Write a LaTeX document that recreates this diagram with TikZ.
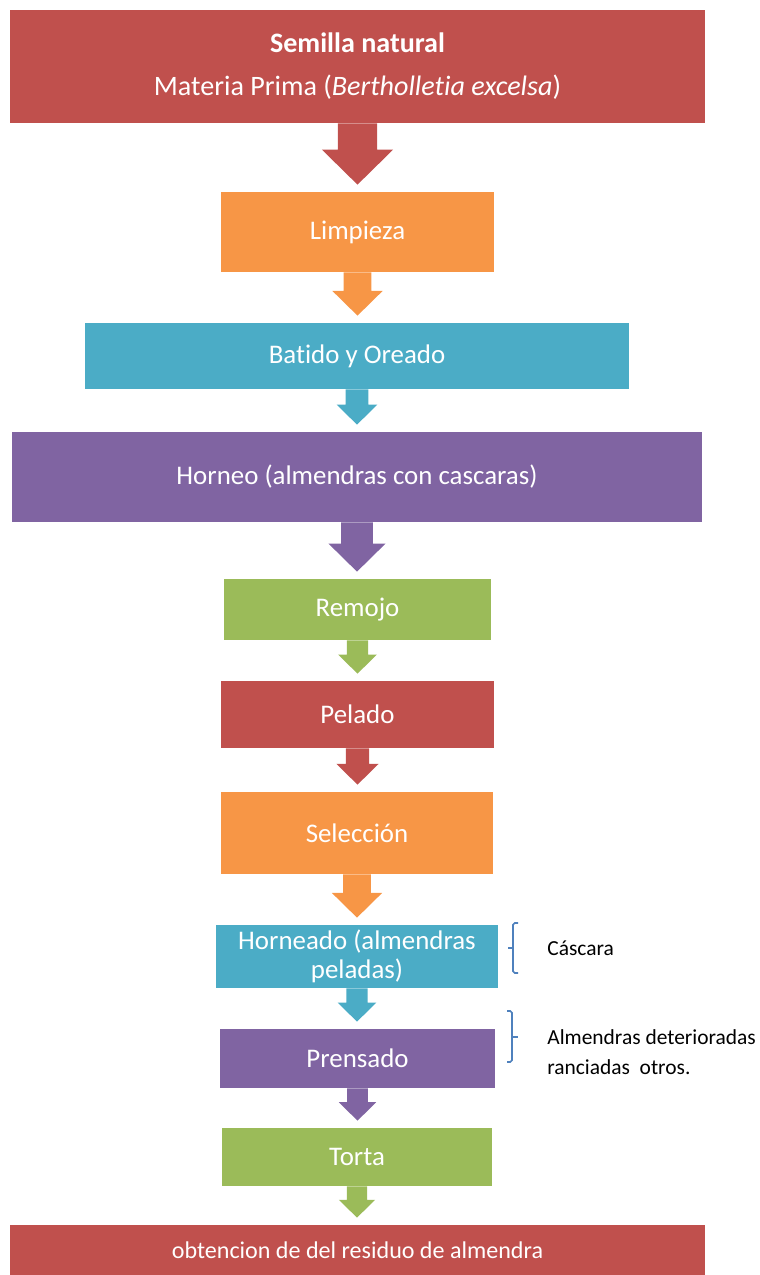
\documentclass[tikz,border=0pt]{standalone}
\usepackage{fontspec}
\setmainfont{Carlito}[Ligatures=NoCommon]
\usetikzlibrary{calc}
\definecolor{rojo}{HTML}{C0504D}
\definecolor{naranja}{HTML}{F79646}
\definecolor{celeste}{HTML}{4BACC6}
\definecolor{morado}{HTML}{8064A2}
\definecolor{verde}{HTML}{9BBB59}
\definecolor{azul}{HTML}{4F81BD}
\def\flecha[#1](#2)(#3){\fill[#1] let \p1=(#2.south), \p2=(#3.north), \n1={\y1-\y2-4pt} in
	({\x1-0.32*\n1},\y1) -- ({\x1-0.32*\n1},{\y1-0.43*\n1}) -- ({\x1-0.58*\n1},{\y1-0.43*\n1}) -- (\x1,{\y1-\n1})
	-- ({\x1+0.58*\n1},{\y1-0.43*\n1}) -- ({\x1+0.32*\n1},{\y1-0.43*\n1}) -- ({\x1+0.32*\n1},\y1) -- cycle;}

\begin{document}
\begin{tikzpicture}[x=0.02cm, y=-0.02cm,
	caja/.style={inner sep=0pt, align=center, text=white, font=\fontsize{15.3}{16.2}\selectfont},
	nota/.style={anchor=west, inner sep=0pt, align=left, font=\fontsize{12.2}{17}\selectfont},
	llave/.style={draw=azul, line width=0.9pt, rounded corners=1pt}]
		%%%%% START %%%%%
		\useasboundingbox (0, 0) rectangle (760, 1275);
		
		\node[caja, fill=rojo, minimum width=13.9cm, minimum height=2.26cm, font=\fontsize{16}{24.4}\selectfont] (semilla) at (357.5, 66.5)
			{\textbf{Semilla natural}\\Materia Prima (\textit{Bertholletia excelsa})};
		\node[caja, fill=naranja, minimum width=5.46cm, minimum height=1.6cm] (limpieza) at (357.5, 232) {Limpieza};
		\node[caja, fill=celeste, minimum width=10.88cm, minimum height=1.32cm] (batido) at (357, 356) {Batido y Oreado};
		\node[caja, fill=morado, minimum width=13.8cm, minimum height=1.8cm] (horneo) at (357, 477) {Horneo (almendras con cascaras)};
		\node[caja, fill=verde, minimum width=5.34cm, minimum height=1.22cm] (remojo) at (357.5, 609.5) {Remojo};
		\node[caja, fill=rojo, minimum width=5.46cm, minimum height=1.34cm] (pelado) at (357.5, 714.5) {Pelado};
		\node[caja, fill=naranja, minimum width=5.44cm, minimum height=1.64cm] (seleccion) at (357, 833) {Selección};
		\node[caja, fill=celeste, minimum width=5.64cm, minimum height=1.26cm] (horneado) at (357, 956.5) {Horneado (almendras\\peladas)};
		\node[caja, fill=morado, minimum width=5.5cm, minimum height=1.18cm] (prensado) at (357.5, 1058.5) {Prensado};
		\node[caja, fill=verde, minimum width=5.4cm, minimum height=1.16cm] (torta) at (357, 1157) {Torta};
		\node[caja, fill=rojo, minimum width=13.9cm, minimum height=1.0cm, font=\fontsize{13.7}{15}\selectfont] (residuo) at (357.5, 1250) {obtencion de del residuo de almendra};
		
		\flecha[rojo](semilla)(limpieza);
		\flecha[naranja](limpieza)(batido);
		\flecha[celeste](batido)(horneo);
		\flecha[morado](horneo)(remojo);
		\flecha[verde](remojo)(pelado);
		\flecha[rojo](pelado)(seleccion);
		\flecha[naranja](seleccion)(horneado);
		\flecha[celeste](horneado)(prensado);
		\flecha[morado](prensado)(torta);
		\flecha[verde](torta)(residuo);
		
		\node[nota] (cascara) at (547, 948) {Cáscara};
		\node[nota] (almendras) at (547, 1052) {Almendras deterioradas\\ranciadas\ \ otros.};
		
		\draw[llave] (518, 923) -- (513, 923) -- (513, 973) -- (518, 973);
		\draw[llave] (513, 948) -- (508, 948);
		\draw[llave] (507, 1011) -- (512, 1011) -- (512, 1062) -- (507, 1062);
		\draw[llave] (512, 1037) -- (518, 1037);
		
		%%%%% END %%%%%
\end{tikzpicture}
\end{document}
